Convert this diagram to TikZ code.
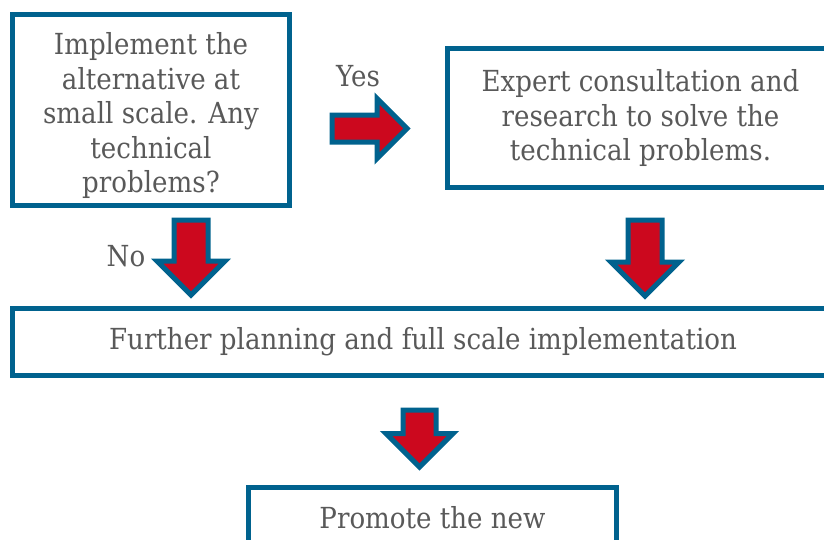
\documentclass[tikz,border=0pt]{standalone}
\usepackage{fontspec}
\setmainfont{DejaVu Serif}[FakeStretch=0.9]
\usetikzlibrary{shapes.arrows}

\definecolor{boxblue}{RGB}{0,98,142}
\definecolor{arrowred}{RGB}{204,8,30}
\definecolor{textgray}{RGB}{89,89,89}

\begin{document}
\begin{tikzpicture}[x=1pt,y=-1pt,font=\fontsize{29}{34.5}\selectfont,
                    text=textgray]
  \tikzstyle{box}=[draw=boxblue,line width=5pt,inner sep=0pt,align=center]
  \tikzstyle{bigarrow}=[single arrow,draw=boxblue,fill=arrowred,
                        line width=5pt,inner sep=0pt,anchor=tail]
  \tikzstyle{downarrow}=[bigarrow,shape border rotate=270]

  \useasboundingbox (0,0) rectangle (824,539);
  \clip (0,0) rectangle (824,539);

  \node[box,minimum width=277pt,minimum height=191pt] (impl) at (151,110)
    {\rule{0pt}{34pt}Implement the\\alternative at\\small scale. Any\\technical\\problems?};
  \node[box,minimum width=386pt,minimum height=139pt] (expert) at (640.5,118)
    {Expert consultation and\\research to solve the\\technical problems.};
  \node[box,minimum width=821pt,minimum height=67pt] (plan) at (423,342)
    {Further planning and full scale implementation};
  \node[box,minimum width=368pt,minimum height=61pt] (promote) at (432.5,518)
    {Promote the new};

  \node (yes) at (358,76.5) {Yes};
  \node (no) at (126,256.5) {No};

  \node[bigarrow,minimum height=75pt,inner ysep=11pt,
        single arrow head extend=16.5pt] (yesarrow) at (329.5,128.5) {};
  \node[downarrow,minimum height=75pt,inner xsep=14.5pt,
        single arrow head extend=17pt] (noarrow) at (191,217.5) {};
  \node[downarrow,minimum height=76pt,inner xsep=14.5pt,
        single arrow head extend=17pt] (expertarrow) at (645,217.5) {};
  \node[downarrow,minimum height=57pt,inner xsep=14pt,
        single arrow head extend=17pt] (planarrow) at (419.5,407.5) {};
\end{tikzpicture}
\end{document}
